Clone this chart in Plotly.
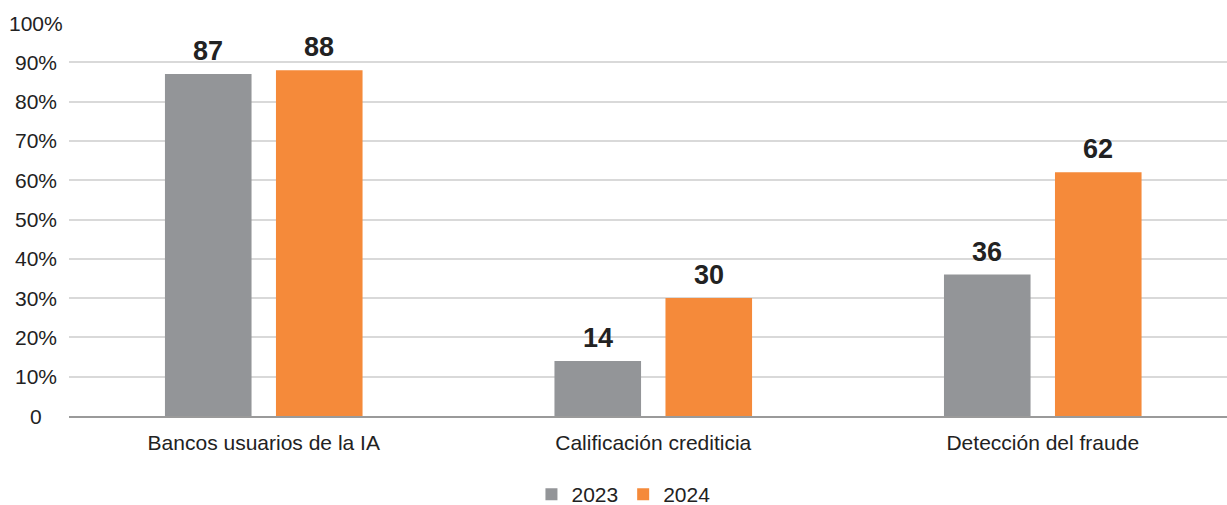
import plotly.graph_objects as go

categories = ["Bancos usuarios de la IA", "Calificación crediticia", "Detección del fraude"]
values_2023 = [87, 14, 36]
values_2024 = [88, 30, 62]
tick_vals = [0, 10, 20, 30, 40, 50, 60, 70, 80, 90, 100]
tick_text = ["0", "10%", "20%", "30%", "40%", "50%", "60%", "70%", "80%", "90%", "100%"]

font_family = "Liberation Sans, Arial, Helvetica, sans-serif"
text_color = "#222222"

fig = go.Figure()
fig.add_trace(go.Bar(
    name="2023", x=categories, y=values_2023,
    marker=dict(color="#939598", line=dict(width=0)),
))
fig.add_trace(go.Bar(
    name="2024", x=categories, y=values_2024,
    marker=dict(color="#F58A3A", line=dict(width=0)),
))

annotations = []
# data labels above each bar (grouped bars: offset left/right of category center)
for vals, shift in ((values_2023, -55.5), (values_2024, 55.5)):
    for c, v in zip(categories, vals):
        annotations.append(dict(
            x=c, y=v, xref="x", yref="y", text=f"<b>{v}</b>", showarrow=False,
            xanchor="center", yanchor="bottom", xshift=shift, yshift=6,
            font=dict(size=27, color=text_color, family=font_family),
        ))
# y tick labels, centred in the left margin
for tv, tt in zip(tick_vals, tick_text):
    annotations.append(dict(
        x=-0.0285, y=tv, xref="paper", yref="y", text=tt, showarrow=False,
        xanchor="center", yanchor="middle",
        font=dict(size=21, color=text_color, family=font_family),
    ))

fig.update_layout(
    width=1227, height=505,
    margin=dict(l=69, r=0, t=23, b=89, autoexpand=False),
    paper_bgcolor="white", plot_bgcolor="white",
    barmode="group", bargap=0.43, bargroupgap=0.22,
    font=dict(family=font_family, size=21, color=text_color),
    showlegend=True,
    legend=dict(orientation="h", x=0.4788, xanchor="center", y=-0.2, yanchor="middle",
                font=dict(size=21, color=text_color), traceorder="normal",
                itemwidth=30, tracegroupgap=0),
    annotations=annotations,
)
fig.update_yaxes(
    range=[0, 100], tickvals=tick_vals, showticklabels=False,
    showgrid=True, gridcolor="#d9d9d9", gridwidth=2,
    zeroline=False, showline=False, ticks="",
)
fig.update_xaxes(
    range=[-0.5, 2.473],
    showline=True, linecolor="#9a9a9a", linewidth=2,
    ticks="", ticklabelstandoff=7,
    tickfont=dict(size=21, color=text_color),
)

fig.write_html("out.html")
